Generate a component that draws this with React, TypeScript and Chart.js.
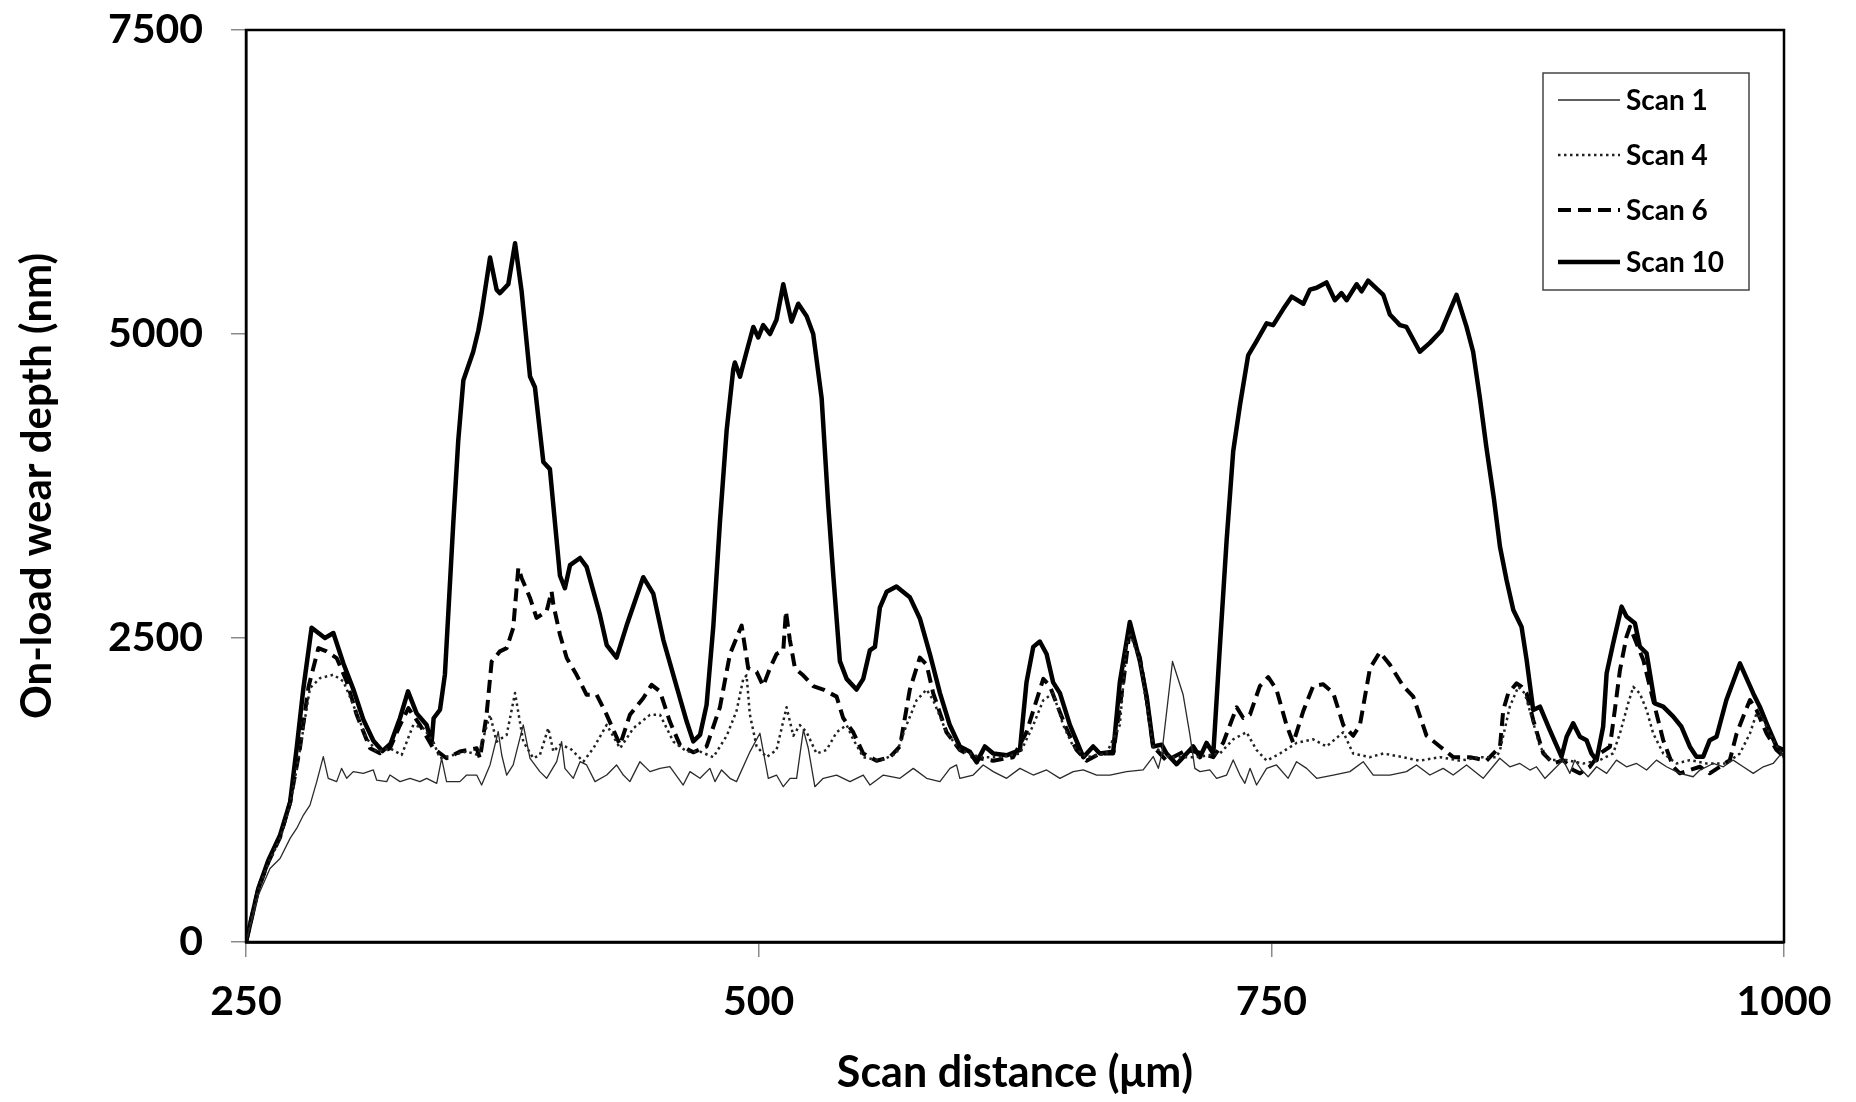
import React, { useEffect, useRef } from 'react';
import { Chart, registerables } from 'chart.js';

Chart.register(...registerables);

// ---------- data ----------
const seriesLabels = ['Scan 1', 'Scan 4', 'Scan 6', 'Scan 10'];
const xAxisTitle = 'Scan distance (μm)';
const yAxisTitle = 'On-load wear depth (nm)';
const xMin = 250, xMax = 1000, xStep = 250;
const yMin = 0, yMax = 7500, yStep = 2500;

const scan1X = [250, 256, 261.7, 266.6, 271.5, 274.7, 278, 281.2, 284.5, 287.7, 290.1, 294.2, 296.6, 299.1, 302.3, 307.2, 312.1, 313.7, 318.6, 320.2, 325.1, 330, 334.8, 338.1, 343, 345.4, 347.8, 354.3, 357.6, 362.5, 364.9, 369, 370.6, 373, 374.7, 377.1, 380.3, 385.2, 388.5, 393.3, 396.6, 401.5, 403.9, 405.5, 409.6, 412.9, 416.1, 420.2, 425.9, 430.7, 434, 437.2, 442.1, 447, 451.9, 456.7, 463.2, 466.5, 471.4, 476.2, 478.7, 481.9, 486, 489.2, 495.8, 500.6, 504.7, 508.7, 512, 515.3, 518.5, 521.8, 524.2, 527.4, 531.5, 538, 544.5, 551, 554.3, 560.8, 568.9, 575.4, 581.9, 588.4, 593.3, 596.5, 598.1, 604.6, 609.5, 614.4, 620.9, 627.4, 633.9, 640.4, 646.9, 653.4, 658.3, 664.8, 671.3, 679.4, 687.5, 692.4, 694.9, 696.5, 701.8, 707, 710.3, 712.7, 715.2, 720, 723.3, 728.2, 731.4, 734.7, 737.1, 739.6, 742.8, 747.7, 752.5, 758.2, 762.3, 767.2, 772.1, 780.2, 788.3, 794.8, 799.7, 807.8, 815.9, 820.8, 827.3, 833.8, 838.7, 845.2, 853.3, 861.4, 866.3, 871.2, 876.1, 879.3, 883.4, 887.5, 892.3, 895.6, 898, 901.3, 904.5, 908.6, 913.5, 918.3, 923.2, 928.1, 933, 937.8, 942.7, 949.2, 955.7, 959, 965.5, 970.4, 975.2, 980.1, 985, 989.9, 994.7, 998.8, 1000];
const scan1Y = [0, 385, 604, 687, 852, 934, 1044, 1126, 1319, 1525, 1346, 1319, 1428, 1346, 1401, 1387, 1415, 1332, 1319, 1373, 1319, 1346, 1319, 1346, 1305, 1511, 1319, 1319, 1373, 1373, 1291, 1456, 1566, 1731, 1538, 1373, 1456, 1786, 1511, 1401, 1346, 1483, 1648, 1428, 1346, 1483, 1456, 1319, 1373, 1456, 1373, 1319, 1483, 1401, 1428, 1442, 1291, 1401, 1346, 1428, 1319, 1415, 1346, 1319, 1566, 1717, 1346, 1373, 1277, 1346, 1346, 1744, 1593, 1277, 1346, 1373, 1319, 1373, 1291, 1373, 1346, 1428, 1346, 1319, 1428, 1456, 1346, 1373, 1456, 1401, 1346, 1428, 1373, 1415, 1346, 1401, 1415, 1373, 1373, 1401, 1415, 1525, 1428, 1538, 2307, 2033, 1703, 1428, 1401, 1415, 1346, 1373, 1497, 1373, 1305, 1428, 1291, 1428, 1456, 1346, 1483, 1428, 1346, 1373, 1401, 1483, 1373, 1373, 1401, 1456, 1373, 1428, 1373, 1456, 1346, 1511, 1441, 1468, 1414, 1441, 1345, 1414, 1496, 1387, 1496, 1414, 1359, 1441, 1387, 1496, 1441, 1468, 1414, 1496, 1441, 1387, 1359, 1414, 1468, 1441, 1496, 1441, 1387, 1441, 1468, 1551, 1500];

const scan4X = [250, 256, 261, 266.6, 271.5, 276, 281.2, 286.1, 292.6, 297.5, 302.3, 308.8, 313.7, 320.2, 325.9, 331.6, 336.5, 341.3, 344.6, 351.1, 357.6, 363.3, 369, 372.2, 377.1, 381.2, 385.2, 390.1, 393.3, 397.4, 399.9, 403.1, 408, 414.5, 419.4, 425.9, 432.4, 438.9, 447, 451.9, 458.4, 464.9, 471.4, 477.9, 484.4, 489.2, 492.5, 494.1, 495.7, 499, 503.9, 508.7, 513.6, 516.9, 520.1, 523.4, 528.2, 533.1, 538, 542.9, 546.1, 551, 559.1, 567.2, 572.1, 577, 581.9, 585.1, 591.6, 598.1, 607.9, 617.6, 627.4, 633.9, 638.8, 643.6, 648.5, 653.4, 659.9, 669.6, 676.1, 679.4, 681, 685.9, 692.4, 700.5, 713.5, 724.9, 731.4, 737.9, 742.8, 747.7, 754.2, 762.3, 770.4, 776.9, 785.1, 789.9, 798.1, 804.6, 814.3, 822.4, 832.2, 842, 851.7, 859.8, 861.5, 866.3, 870.4, 873.6, 876.9, 881, 885.8, 894, 902.1, 910.2, 916.7, 920, 924, 926.5, 929.7, 933, 936.2, 941.1, 947.6, 954.1, 962.2, 971.9, 978.5, 983.4, 986.6, 989.9, 994.7, 1000];
const scan4Y = [0, 430, 650, 850, 1120, 1550, 2088, 2170, 2198, 2143, 1950, 1676, 1566, 1593, 1538, 1786, 1758, 1648, 1511, 1538, 1566, 1538, 1868, 1648, 1703, 2047, 1648, 1511, 1538, 1758, 1566, 1621, 1593, 1483, 1593, 1786, 1593, 1758, 1868, 1868, 1648, 1566, 1566, 1520, 1696, 1900, 2164, 2193, 1871, 1608, 1520, 1579, 1930, 1696, 1784, 1725, 1550, 1579, 1725, 1784, 1667, 1520, 1491, 1550, 1784, 1988, 2076, 1988, 1725, 1579, 1520, 1520, 1550, 1784, 1988, 2047, 1784, 1608, 1520, 1550, 1784, 2427, 2544, 2310, 1608, 1520, 1520, 1550, 1667, 1725, 1579, 1491, 1550, 1637, 1667, 1608, 1725, 1550, 1520, 1550, 1520, 1491, 1520, 1491, 1520, 1520, 1578, 1935, 2099, 2044, 1853, 1606, 1496, 1496, 1468, 1496, 1551, 1715, 1962, 2099, 2044, 1908, 1715, 1551, 1468, 1496, 1468, 1468, 1551, 1715, 1880, 1825, 1660, 1524];

const scan6X = [250, 256, 261, 266.6, 271.5, 276.3, 280.5, 285.3, 289.3, 294.2, 299.1, 304, 310.5, 315.3, 320.2, 325, 329.2, 334.8, 341.3, 347.8, 354.3, 362.5, 364.1, 367.3, 369.8, 373.8, 377.1, 380.3, 382.8, 384.4, 388.5, 391.7, 396.6, 399, 399.9, 403.1, 406.4, 411.2, 416.1, 421, 425.9, 432.4, 437.2, 443.7, 447.8, 451.9, 456.7, 461.6, 468.1, 474.6, 481.1, 486, 491.7, 494.9, 499, 502.2, 505.5, 508.7, 512, 513.3, 515.2, 517.7, 521.7, 526.6, 531.5, 538, 541.2, 546.1, 551, 557.5, 564, 568.9, 573.7, 578.6, 581.9, 585.1, 591.6, 598.1, 604.6, 614.4, 624.1, 630.6, 635.5, 638.8, 642, 645.3, 650.1, 655, 659.9, 666.4, 672.9, 677.8, 681, 685.9, 689.2, 692.4, 698.9, 708.7, 716.8, 721.7, 726.5, 733.1, 736.3, 739.6, 744.4, 748.5, 752.5, 757.4, 760.7, 765.6, 770.4, 775.3, 780.2, 785.1, 789.9, 793.2, 798.1, 802.9, 807.8, 814.3, 819.2, 825.7, 832.2, 838.7, 846.8, 854.9, 861.5, 863.1, 865.5, 869.6, 872, 874.5, 877.7, 882.6, 887.5, 892.3, 897.2, 900.5, 905.3, 910.2, 915.1, 917.5, 920, 923.2, 924.9, 928.1, 931.4, 934.6, 937.8, 941.1, 946, 949.2, 954.1, 959, 963.8, 968.7, 973.6, 976.9, 980.1, 983.4, 986.6, 991.5, 996.4, 1000];
const scan6Y = [0, 440, 660, 860, 1150, 1593, 2100, 2417, 2390, 2335, 2143, 1868, 1593, 1552, 1593, 1780, 1923, 1786, 1593, 1511, 1566, 1593, 1511, 1868, 2307, 2390, 2417, 2582, 3077, 2994, 2829, 2665, 2720, 2884, 2774, 2527, 2335, 2197, 2033, 2033, 1868, 1621, 1868, 2005, 2115, 2060, 1813, 1621, 1560, 1608, 1930, 2368, 2602, 2251, 2222, 2105, 2251, 2368, 2398, 2720, 2485, 2251, 2193, 2105, 2076, 2018, 1842, 1725, 1550, 1491, 1520, 1608, 2076, 2339, 2281, 2047, 1725, 1579, 1520, 1491, 1520, 1725, 1988, 2164, 2105, 1959, 1754, 1579, 1491, 1550, 1550, 2135, 2573, 2339, 2000, 1608, 1491, 1579, 1550, 1520, 1637, 1930, 1842, 1871, 2105, 2178, 2076, 1784, 1637, 1900, 2105, 2120, 2047, 1784, 1696, 1784, 2251, 2383, 2281, 2105, 2018, 1696, 1608, 1520, 1520, 1491, 1606, 1908, 2044, 2127, 2099, 2044, 1825, 1551, 1468, 1496, 1414, 1387, 1441, 1551, 1606, 1908, 2236, 2511, 2593, 2456, 2319, 2099, 1880, 1660, 1441, 1387, 1414, 1441, 1387, 1441, 1496, 1715, 1853, 1990, 1908, 1715, 1578, 1524];

const scan10X = [250, 256, 260.9, 266.6, 271.5, 274.7, 278, 282, 288.5, 292.6, 297.5, 302.3, 307.2, 312.1, 316.5, 320.5, 325.1, 329, 333.2, 338.1, 340.5, 341.5, 344.6, 347, 348.7, 351.1, 353.5, 356, 358.4, 360.8, 363.3, 364.9, 369, 372.2, 373.8, 377.9, 381.2, 384.4, 388.5, 390.9, 395, 398.2, 403.1, 405.5, 408, 412.9, 416.1, 422.6, 425.9, 430.7, 435.6, 443.7, 448.6, 453.5, 460, 464.9, 468.1, 471.4, 474.6, 477.9, 481.1, 484.4, 487.6, 488.4, 490.9, 494.1, 497.4, 499.8, 502.2, 505.5, 508.7, 512, 516, 519.3, 523.4, 526.6, 530.7, 533.9, 536.4, 539.6, 542.9, 547.7, 551, 554.2, 556.7, 559.1, 562.4, 567.2, 573.7, 578.6, 583.5, 588.4, 593.2, 598.1, 603, 606.3, 610.3, 614.4, 620.9, 627.4, 630.6, 633.9, 637.1, 640.4, 643.6, 646.9, 651.8, 658.3, 663.1, 666.4, 672.9, 676.1, 681, 685.9, 689.2, 692.4, 696.5, 698.9, 703.8, 708.7, 711.9, 715.2, 718.4, 721.7, 724.9, 728.2, 731.4, 734.7, 738.7, 742.8, 747.7, 750.9, 755.8, 759.9, 765.6, 768.8, 772.1, 776.9, 781, 784.2, 786.7, 791.6, 794, 797.2, 804.6, 807.8, 812.7, 815.9, 822.4, 827.3, 833, 840.3, 845.2, 848.4, 851.7, 854.9, 858.5, 861.5, 864.7, 868, 872, 874.5, 877.7, 881, 885.8, 891.5, 894, 897.2, 900.5, 903.7, 906.1, 908.6, 911.8, 913.5, 916.7, 920.8, 923.2, 927.3, 929.7, 933, 937, 941.1, 946, 950, 954.1, 957.3, 960.6, 963.8, 967.1, 971.9, 978.5, 985, 988.2, 991.5, 996.4, 1000];
const scan10Y = [0, 440, 673, 879, 1150, 1593, 2088, 2585, 2500, 2541, 2290, 2080, 1830, 1655, 1570, 1630, 1842, 2061, 1880, 1784, 1640, 1840, 1910, 2200, 2719, 3450, 4123, 4620, 4737, 4854, 5029, 5175, 5629, 5365, 5336, 5409, 5746, 5351, 4650, 4562, 3947, 3889, 3012, 2909, 3099, 3158, 3085, 2690, 2442, 2339, 2602, 3000, 2865, 2485, 2100, 1813, 1650, 1703, 1950, 2600, 3450, 4211, 4708, 4766, 4649, 4854, 5058, 4971, 5073, 5000, 5117, 5409, 5102, 5249, 5146, 5000, 4474, 3596, 3012, 2310, 2164, 2076, 2164, 2398, 2427, 2749, 2880, 2924, 2836, 2661, 2368, 2047, 1784, 1608, 1564, 1477, 1608, 1550, 1535, 1579, 2135, 2427, 2471, 2368, 2135, 2047, 1784, 1520, 1608, 1550, 1564, 2135, 2632, 2310, 2018, 1608, 1623, 1550, 1462, 1550, 1608, 1520, 1637, 1550, 2427, 3304, 4035, 4415, 4825, 4942, 5088, 5073, 5205, 5307, 5249, 5365, 5380, 5424, 5278, 5336, 5278, 5409, 5351, 5439, 5322, 5161, 5073, 5058, 4854, 4927, 5029, 5322, 5058, 4854, 4474, 4064, 3650, 3250, 2977, 2730, 2593, 2319, 1908, 1935, 1743, 1524, 1688, 1798, 1688, 1660, 1551, 1496, 1770, 2209, 2456, 2758, 2676, 2621, 2429, 2374, 1962, 1935, 1853, 1770, 1606, 1524, 1524, 1660, 1688, 1990, 2291, 2044, 1935, 1798, 1606, 1578];

// ---------- styling ----------
const FONT = "Lato, 'Open Sans', sans-serif";

const toPoints = (xs: number[], ys: number[]) => xs.map((x, i) => ({ x, y: ys[i] }));

const frameAndLegend = {
  id: 'frameAndLegend',
  afterDraw(chart: any) {
    const { ctx, chartArea } = chart;
    ctx.save();
    // plot frame
    ctx.setLineDash([]);
    ctx.strokeStyle = '#000';
    ctx.lineWidth = 2.5;
    ctx.strokeRect(chartArea.left, chartArea.top, chartArea.right - chartArea.left, chartArea.bottom - chartArea.top);

    // legend box
    const bx = chartArea.right - 241;
    const by = chartArea.top + 43;
    const bw = 206;
    const bh = 217;
    ctx.fillStyle = '#fff';
    ctx.fillRect(bx, by, bw, bh);
    ctx.strokeStyle = '#444';
    ctx.lineWidth = 1.5;
    ctx.strokeRect(bx, by, bw, bh);
    const rows = [27, 82, 137, 189];
    chart.data.datasets.forEach((ds: any, i: number) => {
      const y = by + rows[i];
      ctx.save();
      ctx.strokeStyle = ds.borderColor;
      ctx.lineWidth = ds.borderWidth;
      ctx.setLineDash(ds.borderDash || []);
      ctx.beginPath();
      ctx.moveTo(bx + 15, y);
      ctx.lineTo(bx + 77, y);
      ctx.stroke();
      ctx.restore();
      ctx.fillStyle = '#000';
      ctx.font = `bold 28px ${FONT}`;
      ctx.textAlign = 'left';
      ctx.textBaseline = 'middle';
      ctx.fillText(ds.label, bx + 83, y + 1);
    });
    ctx.restore();
  },
};

export default function App() {
  const ref = useRef<HTMLCanvasElement | null>(null);

  useEffect(() => {
    if (!ref.current) return;
    const styles = [
      { color: '#2a2a2a', width: 1.3, dash: [] as number[] },
      { color: '#222', width: 2.5, dash: [2.5, 3.5] },
      { color: '#000', width: 4, dash: [13, 7] },
      { color: '#000', width: 4.5, dash: [] as number[] },
    ];
    const series = [
      toPoints(scan1X, scan1Y),
      toPoints(scan4X, scan4Y),
      toPoints(scan6X, scan6Y),
      toPoints(scan10X, scan10Y),
    ];
    const plainTick = (v: any) => String(v);
    const chart = new Chart(ref.current, {
      type: 'line',
      data: {
        datasets: series.map((pts, i) => ({
          label: seriesLabels[i],
          data: pts,
          borderColor: styles[i].color,
          backgroundColor: styles[i].color,
          borderWidth: styles[i].width,
          borderDash: styles[i].dash,
          borderJoinStyle: 'round',
          pointRadius: 0,
          tension: 0,
          fill: false,
        })),
      },
      options: {
        responsive: false,
        animation: false,
        layout: { padding: { left: 0, top: 30, right: 72, bottom: 0 } },
        plugins: { legend: { display: false }, tooltip: { enabled: false } },
        scales: {
          x: {
            type: 'linear',
            min: xMin,
            max: xMax,
            afterFit: (s: any) => { s.height = 160; },
            ticks: {
              stepSize: xStep,
              padding: 20,
              color: '#000',
              maxRotation: 0,
              autoSkip: false,
              callback: plainTick,
              font: { family: FONT, size: 41, weight: 'bold' },
            },
            grid: { drawOnChartArea: false, drawTicks: true, tickLength: 15, color: '#8a8a8a', lineWidth: 1.5 },
            border: { display: true, color: '#333', width: 3 },
            title: {
              display: true,
              text: xAxisTitle,
              color: '#000',
              font: { family: FONT, size: 43, weight: 'bold' },
              padding: { top: 0, bottom: 3 },
            },
          },
          y: {
            type: 'linear',
            min: yMin,
            max: yMax,
            afterFit: (s: any) => { s.width = 246; s.paddingTop = 0; s.paddingBottom = 0; },
            ticks: {
              stepSize: yStep,
              padding: 28,
              color: '#000',
              callback: plainTick,
              font: { family: FONT, size: 41, weight: 'bold' },
            },
            grid: { drawOnChartArea: false, drawTicks: true, tickLength: 15, color: '#8a8a8a', lineWidth: 1.5 },
            border: { display: true, color: '#000', width: 2.5 },
            title: {
              display: true,
              text: yAxisTitle,
              color: '#000',
              font: { family: FONT, size: 42, weight: 'bold' },
              padding: { top: 12, bottom: 0 },
            },
          },
        },
      },
      plugins: [frameAndLegend],
    } as any);
    return () => chart.destroy();
  }, []);

  return (
    <div style={{ position: 'fixed', left: 0, top: 0, width: 1856, height: 1102, background: '#fff' }}>
      <canvas ref={ref} width={1856} height={1102} style={{ display: 'block', width: 1856, height: 1102 }} />
    </div>
  );
}
